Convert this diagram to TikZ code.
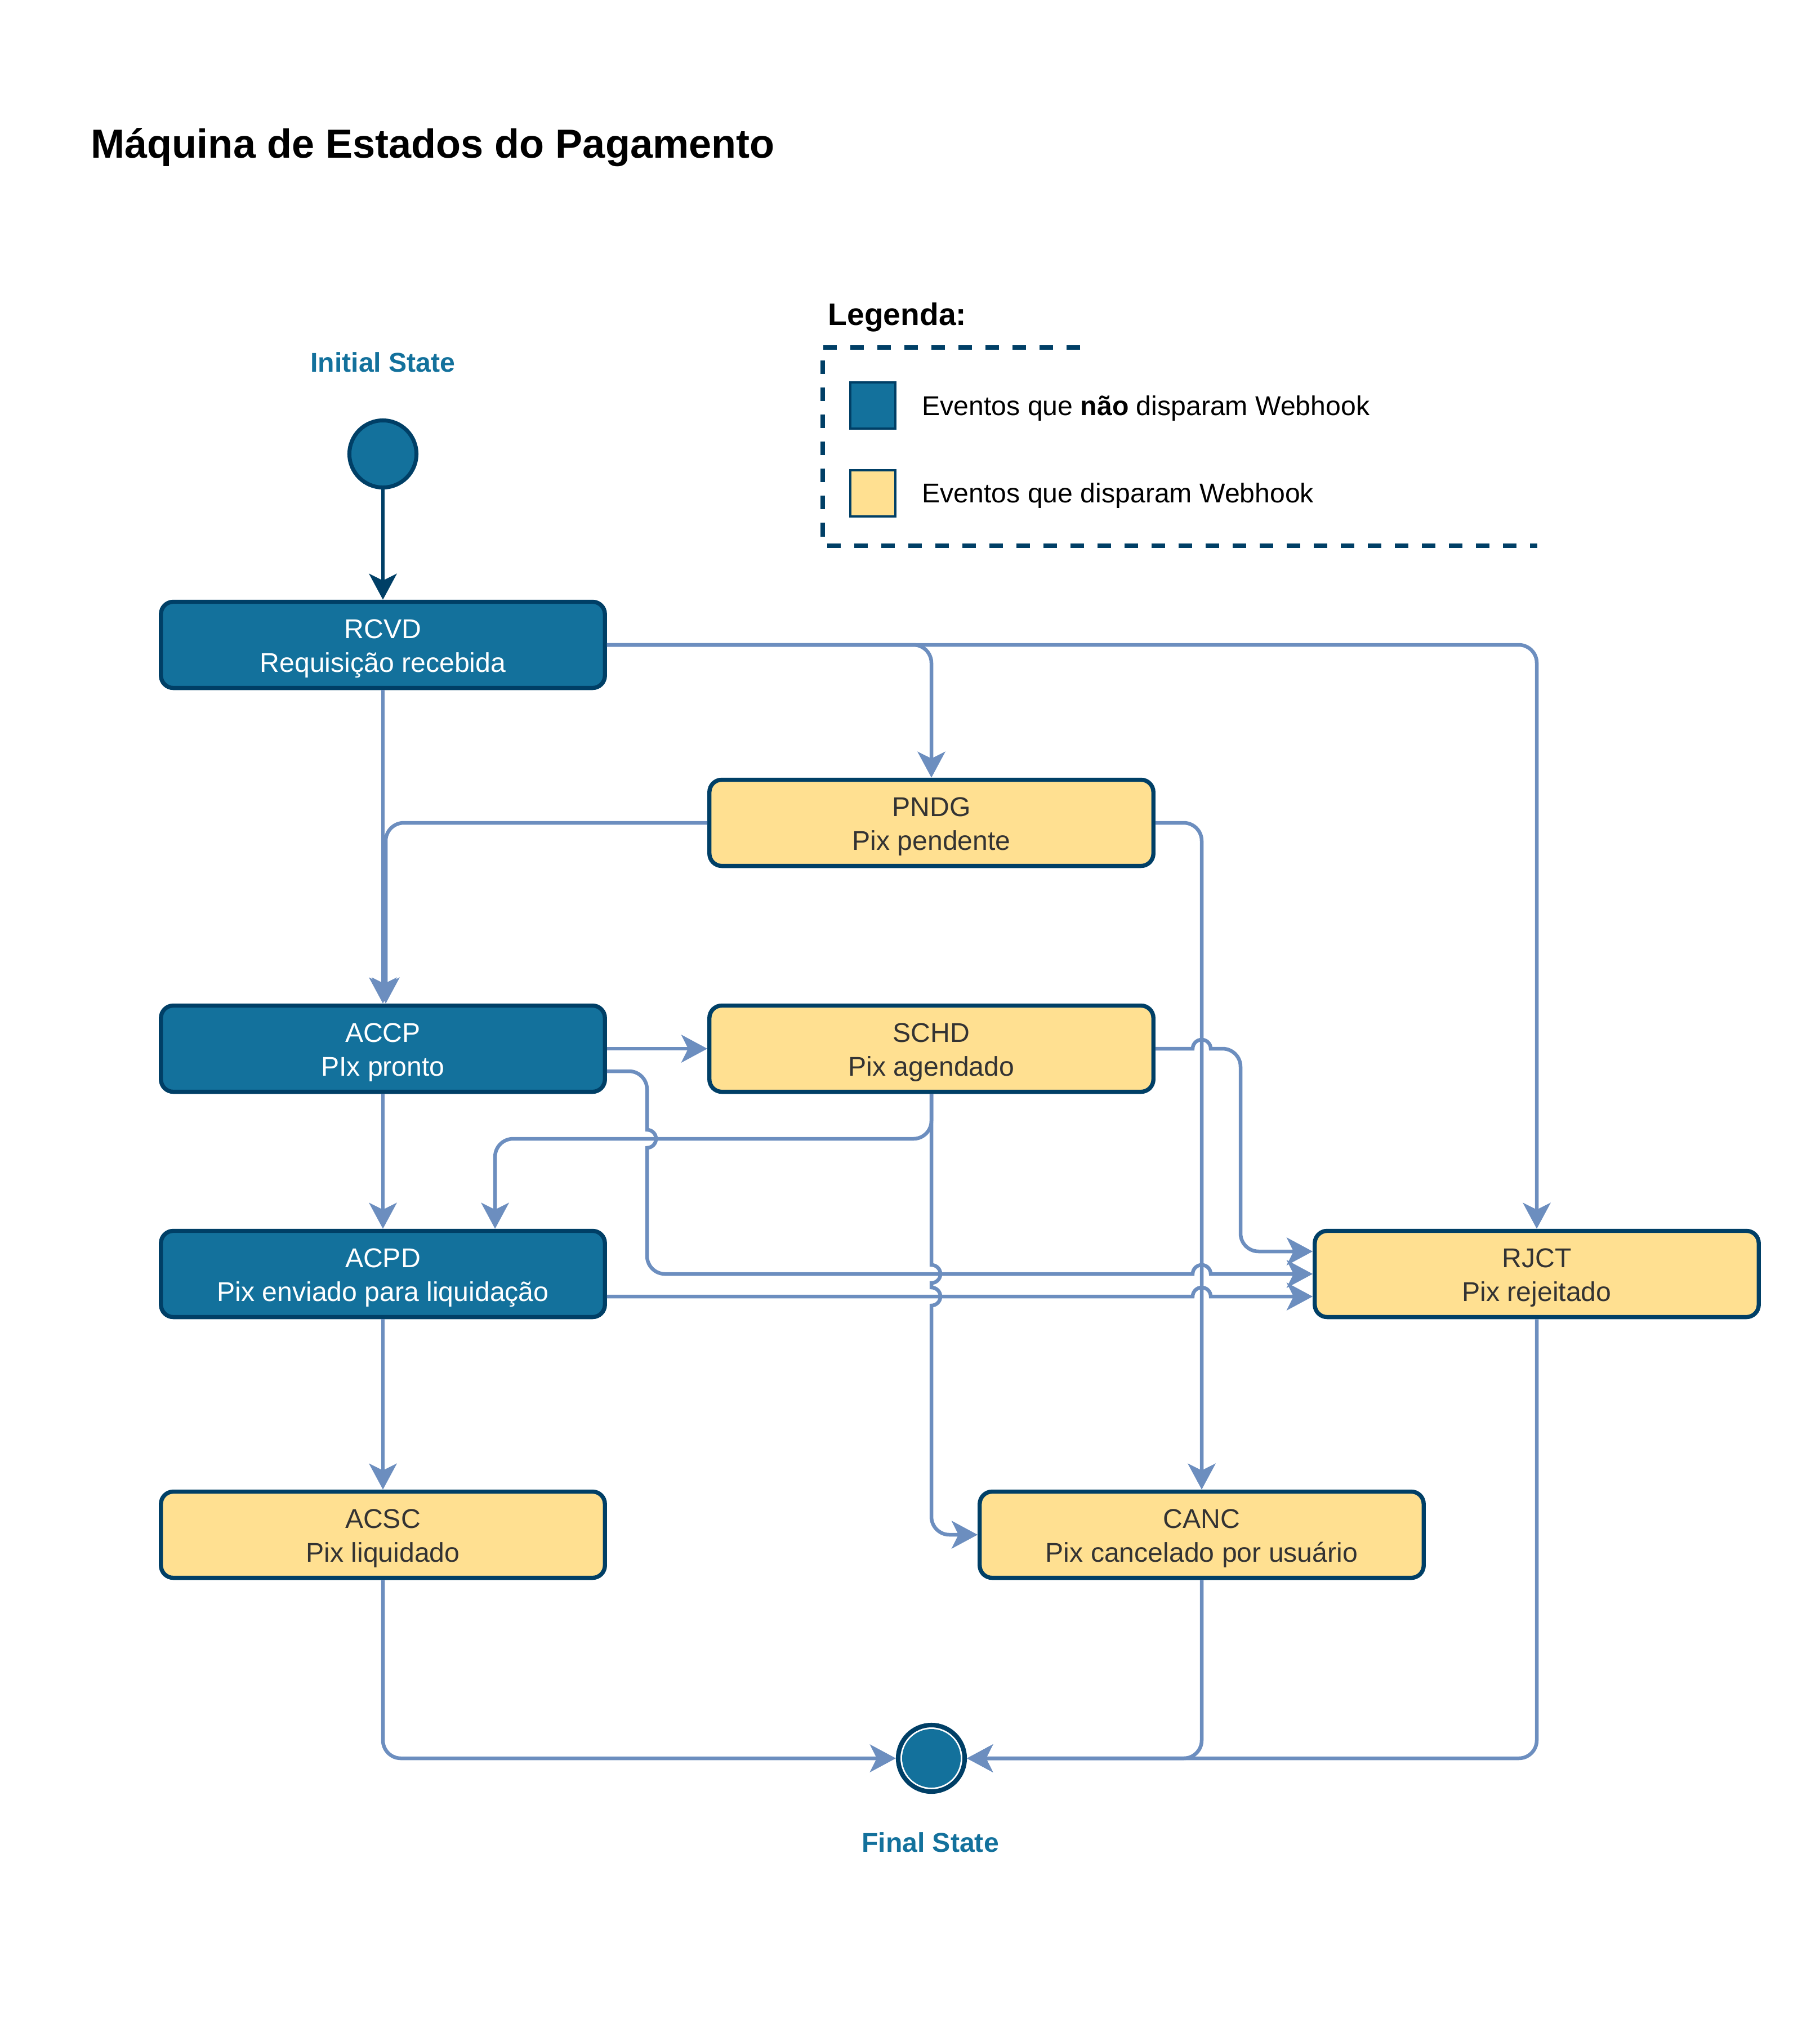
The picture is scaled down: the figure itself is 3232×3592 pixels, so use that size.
\documentclass[tikz,border=0pt]{standalone}
\usepackage{fontspec}
\setmainfont{Liberation Sans}
\usetikzlibrary{arrows.meta}
\definecolor{azul}{HTML}{13719C}
\definecolor{escuro}{HTML}{003F66}
\definecolor{amarelo}{HTML}{FFE091}
\definecolor{linha}{HTML}{6C8EBF}
\definecolor{texto}{HTML}{333333}
\newcommand{\alto}{\rule{0pt}{0.47cm}}
\begin{document}
\begin{tikzpicture}[x=0.01cm,y=-0.01cm]
		  \tikzstyle{estado}=[draw=escuro,line width=2.1pt,rounded corners=0.22cm,minimum width=7.88cm,minimum height=1.53cm,align=center,font=\fontsize{13.7}{17}\selectfont];
		  \tikzstyle{azulbox}=[estado,fill=azul,text=white];
		  \tikzstyle{amarelobox}=[estado,fill=amarelo,text=texto];
		  \tikzstyle{seta}=[draw=linha,line width=1.85pt,rounded corners=0.32cm,-{Stealth[length=0.46cm,width=0.49cm,inset=0.12cm]}];
		  \tikzstyle{rotulo}=[anchor=base,text=azul,font=\fontsize{13.7}{17}\selectfont\bfseries];
		  \tikzstyle{texto}=[anchor=base west,inner sep=0pt,font=\fontsize{13.7}{17}\selectfont];
			\useasboundingbox (0,0) rectangle (3232,3592);

			\path (161,280) node[texto,font=\fontsize{20.5}{25}\selectfont\bfseries] (titulo) {Máquina de Estados do Pagamento};

			% legenda
			\path (1470,577) node[texto,font=\fontsize{15.7}{19}\selectfont\bfseries] (legenda) {Legenda:};
			\path[draw=escuro,line width=2.2pt,dash pattern=on 0.24cm off 0.24cm] (1918,617) -- (1461,617) -- (1461,969) -- (2730,969);
			\path (1550,720) node[fill=azul,draw=escuro,line width=1pt,minimum width=0.8cm,minimum height=0.82cm] (legazul) {};
			\path (1550,876) node[fill=amarelo,draw=escuro,line width=1pt,minimum width=0.8cm,minimum height=0.82cm] (legamarelo) {};
			\path (1637,737) node[texto] (txtazul) {Eventos que \textbf{não} disparam Webhook};
			\path (1637,892) node[texto] (txtamarelo) {Eventos que disparam Webhook};

			% estados
			\path (680,660) node[rotulo] (txtinicio) {Initial State};
			\path (680,806) node[circle,fill=azul,draw=escuro,line width=2pt,minimum size=1.19cm,inner sep=0pt] (inicio) {};
			\path (680,1145) node[azulbox] (rcvd) {\alto RCVD\\Requisição recebida};
			\path (1654,1461) node[amarelobox] (pndg) {\alto PNDG\\Pix pendente};
			\path (680,1862) node[azulbox] (accp) {\alto ACCP\\PIx pronto};
			\path (1654,1862) node[amarelobox] (schd) {\alto SCHD\\Pix agendado};
			\path (680,2262) node[azulbox] (acpd) {\alto ACPD\\Pix enviado para liquidação};
			\path (2729,2262) node[amarelobox] (rjct) {\alto RJCT\\Pix rejeitado};
			\path (680,2725) node[amarelobox] (acsc) {\alto ACSC\\Pix liquidado};
			\path (2134,2725) node[amarelobox] (canc) {\alto CANC\\Pix cancelado por usuário};
			\path (1654,3122) node[circle,fill=white,draw=escuro,line width=2.3pt,minimum size=1.18cm,inner sep=0pt] (fim) {};
			\fill[azul] (fim) circle (0.52cm);
			\path (1652,3288) node[rotulo] (txtfim) {Final State};

			% transicoes
			\path[seta,draw=escuro] (inicio) -- (rcvd);
			\path[seta] (rcvd.east) -| (pndg.north);
			\path[seta] (rcvd.east) -| (rjct.north);
			\path[seta] (rcvd.south) -- (accp.north);
			\path[seta] (pndg.west) -| ([xshift=0.05cm]accp.north);
			\path[seta] (pndg.east) -| (canc.north);
			\path[seta] (accp.east) -- (schd.west);
			\path[seta] ([yshift=-0.4cm]accp.east) -- (1149,1902) [sharp corners] -- (1149,2006) arc[start angle=90,end angle=-90,radius=0.16cm] [rounded corners=0.32cm] -- (1149,2262) [sharp corners] -- (2118,2262) arc[start angle=180,end angle=0,radius=0.16cm] -- (rjct.west);
			\path[seta] (schd.east) [sharp corners] -- (2118,1862) arc[start angle=180,end angle=0,radius=0.16cm] [rounded corners=0.32cm] -- (2203,1862) |- ([yshift=0.4cm]rjct.west);
			\path[seta] (schd.south) -- (1654,2022) -| ([xshift=1.99cm]acpd.north);
			\path[seta] (schd.south) [sharp corners] -- (1654,2246) arc[start angle=90,end angle=-90,radius=0.16cm] -- (1654,2286) arc[start angle=90,end angle=-90,radius=0.16cm] [rounded corners=0.32cm] -- (1654,2725) -- (canc.west);
			\path[seta] (accp.south) -- (acpd.north);
			\path[seta] ([yshift=-0.4cm]acpd.east) [sharp corners] -- (2118,2302) arc[start angle=180,end angle=0,radius=0.16cm] -- ([yshift=-0.4cm]rjct.west);
			\path[seta] (acpd.south) -- (acsc.north);
			\path[seta] (acsc.south) |- (fim.west);
			\path[seta] (canc.south) |- (fim.east);
			\path[seta] (rjct.south) |- (fim.east);
		\end{tikzpicture}
\end{document}
